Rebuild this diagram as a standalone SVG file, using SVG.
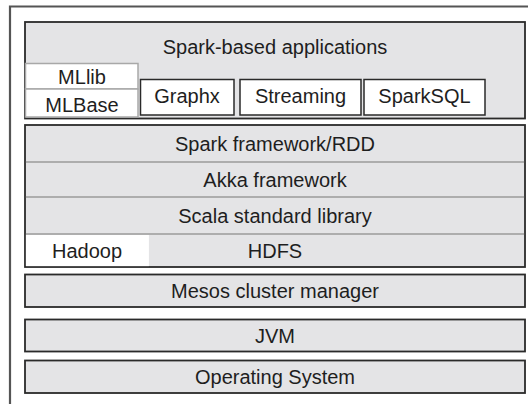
<svg xmlns="http://www.w3.org/2000/svg" width="528" height="404" viewBox="0 0 528 404">
<style>
text{font-family:"Liberation Sans",Arial,sans-serif;font-size:20px;fill:#1e1e1e;text-anchor:middle}
.layer{fill:#e4e4e6;stroke:#2a2a2a;stroke-width:1.8}
.div{stroke:#9a9a9a;stroke-width:1.5;fill:none}
.wgray{fill:#fff;stroke:#a8a8a8;stroke-width:1.5}
.wbox{fill:#fff;stroke:#2a2a2a;stroke-width:1.5}
</style>
<path d="M10,404 V6.5 H528" fill="none" stroke="#555" stroke-width="2.2"/>
<g id="apps">
<rect class="layer" x="25" y="22" width="500" height="96.5"/>
<text x="275" y="53.5">Spark-based applications</text>
</g>
<g id="mllib">
<rect class="wgray" x="25.5" y="63.5" width="112.5" height="25.5"/>
<text x="82" y="83.5">MLlib</text>
</g>
<g id="mlbase">
<rect class="wgray" x="25.5" y="89" width="112.5" height="28"/>
<text x="82" y="111.5">MLBase</text>
</g>
<g id="graphx">
<rect class="wbox" x="140.5" y="79.5" width="93.5" height="35.5"/>
<text x="187" y="102.5">Graphx</text>
</g>
<g id="streaming">
<rect class="wbox" x="240" y="79.5" width="121" height="35.5"/>
<text x="300.5" y="102.5">Streaming</text>
</g>
<g id="sparksql">
<rect class="wbox" x="364" y="79.5" width="121" height="35.5"/>
<text x="424.5" y="102.5">SparkSQL</text>
</g>
<g id="core-stack">
<rect class="layer" x="25" y="125" width="500" height="142"/>
<rect x="25.9" y="234.8" width="123" height="31.3" fill="#fff"/>
<path class="div" d="M25.9,162 H524.1 M25.9,197 H524.1 M25.9,234 H524.1"/>
</g>
<g id="spark-framework"><text x="275" y="150.5">Spark framework/RDD</text></g>
<g id="akka"><text x="275" y="186.5">Akka framework</text></g>
<g id="scala"><text x="275" y="222.5">Scala standard library</text></g>
<g id="hadoop"><text x="87" y="257.5">Hadoop</text></g>
<g id="hdfs"><text x="275" y="257.5">HDFS</text></g>
<g id="mesos">
<rect class="layer" x="25" y="274.5" width="500" height="32.5"/>
<text x="275" y="297.5">Mesos cluster manager</text>
</g>
<g id="jvm">
<rect class="layer" x="25" y="319.5" width="500" height="32"/>
<text x="275" y="342.5">JVM</text>
</g>
<g id="os">
<rect class="layer" x="25" y="360.5" width="500" height="32.5"/>
<text x="275" y="384">Operating System</text>
</g>
<g id="connectors"/>
</svg>
